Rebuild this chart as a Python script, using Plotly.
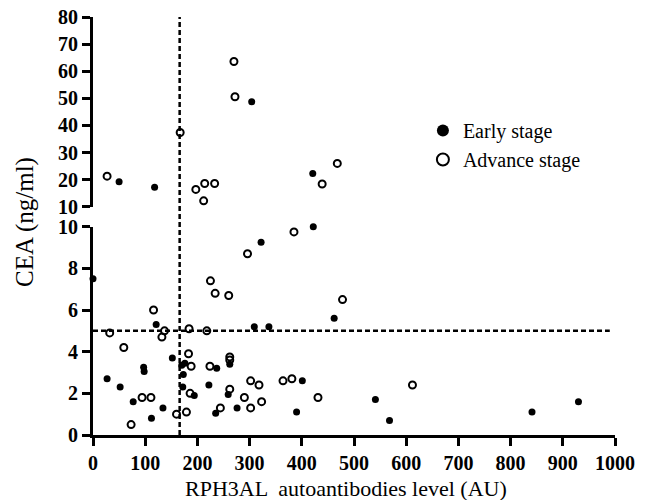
import plotly.graph_objects as go

# Early stage (filled circles)
early_x = [50, 118, 304, 421,
           0, 27, 52, 77, 97, 98, 112, 121, 134, 152, 170, 176, 173, 172, 194,
           237, 222, 262, 259, 235, 276, 309, 337, 322, 422, 401, 390, 462,
           541, 568, 841, 930]
early_y = [19.2, 17.2, 48.7, 22.3,
           7.5, 2.7, 2.3, 1.6, 3.25, 3.05, 0.8, 5.3, 1.3, 3.7, 3.35, 3.45, 2.9, 2.3, 1.9,
           3.2, 2.4, 3.4, 1.95, 1.05, 1.3, 5.2, 5.2, 9.25, 10.0, 2.6, 1.1, 5.6,
           1.7, 0.7, 1.1, 1.6]

# Advance stage (open circles)
adv_x = [27, 167, 197, 214, 212, 233, 270, 272, 439, 468,
         32, 59, 73, 94, 111, 116, 132, 137, 160, 179, 184, 183, 188, 186,
         218, 224, 225, 234, 260, 262, 262, 262, 244, 290, 302, 318, 302, 323,
         296, 385, 364, 381, 431, 478, 612]
adv_y = [21.3, 37.4, 16.4, 18.6, 12.2, 18.6, 63.6, 50.6, 18.4, 26.0,
         4.9, 4.2, 0.5, 1.8, 1.8, 6.0, 4.7, 5.0, 1.0, 1.1, 5.1, 3.9, 3.3, 2.0,
         5.0, 3.3, 7.4, 6.8, 6.7, 3.75, 3.6, 2.2, 1.3, 1.8, 2.6, 2.4, 1.3, 1.6,
         8.7, 9.75, 2.6, 2.7, 1.8, 6.5, 2.4]

x_cut = 166      # vertical cut-off (AU)
y_cut = 5        # horizontal cut-off (ng/ml)
BREAK = 10

FONT = "Liberation Serif, Times New Roman, serif"


def split(xs, ys):
    lo = [(x, y) for x, y in zip(xs, ys) if y <= BREAK]
    hi = [(x, y) for x, y in zip(xs, ys) if y > BREAK]
    return lo, hi


fig = go.Figure()

e_lo, e_hi = split(early_x, early_y)
a_lo, a_hi = split(adv_x, adv_y)

filled = dict(symbol="circle", size=7, color="black")
opened = dict(symbol="circle-open", size=7, color="black", line=dict(width=2, color="black"))

fig.add_trace(go.Scatter(x=[p[0] for p in e_lo], y=[p[1] for p in e_lo], mode="markers",
                         marker=filled, name="Early stage", legendgroup="e",
                         cliponaxis=False, xaxis="x", yaxis="y"))
fig.add_trace(go.Scatter(x=[p[0] for p in e_hi], y=[p[1] for p in e_hi], mode="markers",
                         marker=filled, name="Early stage", legendgroup="e", showlegend=False,
                         cliponaxis=False, xaxis="x", yaxis="y2"))
fig.add_trace(go.Scatter(x=[p[0] for p in a_lo], y=[p[1] for p in a_lo], mode="markers",
                         marker=opened, name="Advance stage", legendgroup="a",
                         cliponaxis=False, xaxis="x", yaxis="y"))
fig.add_trace(go.Scatter(x=[p[0] for p in a_hi], y=[p[1] for p in a_hi], mode="markers",
                         marker=opened, name="Advance stage", legendgroup="a", showlegend=False,
                         cliponaxis=False, xaxis="x", yaxis="y2"))

tickfont = dict(family=FONT, size=20, color="black", weight=700)
axis_common = dict(showline=True, linewidth=3, linecolor="black", ticks="outside",
                   ticklen=8, tickwidth=3, tickcolor="black", showgrid=False,
                   zeroline=False, tickfont=tickfont)

fig.update_layout(
    width=650, height=500,
    margin=dict(l=93, r=35, t=17, b=65, autoexpand=False),
    paper_bgcolor="white", plot_bgcolor="white",
    font=dict(family=FONT, color="black"),
    xaxis=dict(range=[0, 1000], dtick=100, tick0=0, anchor="y", **axis_common),
    yaxis=dict(domain=[0, 0.4983], range=[0, BREAK], dtick=2, tick0=0, anchor="x",
               **axis_common),
    yaxis2=dict(domain=[0.546, 1], range=[BREAK, 80], dtick=10, tick0=0, anchor="x",
                **axis_common),
    legend=dict(x=0.632, y=0.775, xanchor="left", yanchor="top",
                font=dict(family=FONT, size=20, color="black"),
                bgcolor="rgba(0,0,0,0)", tracegroupgap=0, itemsizing="constant"),
    showlegend=True,
)

dash = "5px,3px"
fig.add_shape(type="line", xref="x", yref="paper", x0=x_cut, x1=x_cut, y0=0, y1=1,
              line=dict(color="black", width=2.5, dash=dash))
fig.add_shape(type="line", xref="x", yref="y", x0=0, x1=990, y0=y_cut, y1=y_cut,
              line=dict(color="black", width=2.5, dash=dash))

fig.add_annotation(text="CEA (ng/ml)", textangle=-90, xref="paper", yref="paper",
                   x=-0.130, y=0.51, xanchor="center", yanchor="middle", showarrow=False,
                   font=dict(family=FONT, size=25, color="black"))
fig.add_annotation(text="RPH3AL  autoantibodies level (AU)", xref="paper", yref="paper",
                   x=0.485, y=-0.127, xanchor="center", yanchor="middle", showarrow=False,
                   font=dict(family=FONT, size=22, color="black"))

fig.write_html("out.html", config={"displayModeBar": False},
               post_script="document.body.style.margin='0px';")
